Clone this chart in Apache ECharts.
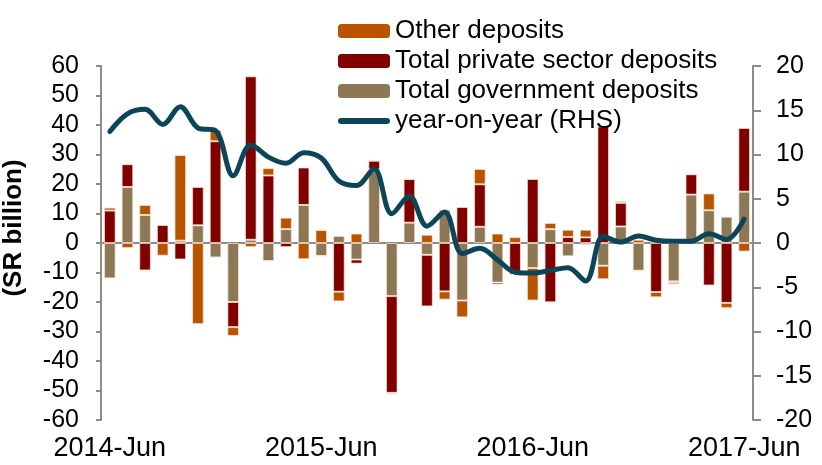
<!doctype html>
<html>
	<head>
		<meta charset="UTF-8">
		<title>Deposits</title>
		<script src="https://cdn.jsdelivr.net/npm/echarts@6/dist/echarts.min.js"></script>
		<style>
			html, body { margin: 0; padding: 0; background: #fff; }
			#chart { width: 822px; height: 465px; }
		</style>
	</head>
	<body>
		<div id="chart"></div>
		<script type="text/javascript">
			// months 2014-Jun .. 2017-Jun
			var months = ['2014-Jun', '2014-Jul', '2014-Aug', '2014-Sep', '2014-Oct', '2014-Nov', '2014-Dec',
				'2015-Jan', '2015-Feb', '2015-Mar', '2015-Apr', '2015-May', '2015-Jun', '2015-Jul', '2015-Aug',
				'2015-Sep', '2015-Oct', '2015-Nov', '2015-Dec', '2016-Jan', '2016-Feb', '2016-Mar', '2016-Apr',
				'2016-May', '2016-Jun', '2016-Jul', '2016-Aug', '2016-Sep', '2016-Oct', '2016-Nov', '2016-Dec',
				'2017-Jan', '2017-Feb', '2017-Mar', '2017-Apr', '2017-May', '2017-Jun'];
			var government = [-12, 19, 9.5, 0, 0.8, 6, -4.9, -20, 1.1, -6.1, 4.7, 12.9, -4.4, 2.4, -5.6, 24.9, -18, 6.9, -4,
				11.3, -19.5, 5.5, -13.4, 0, -8.5, 4.7, -4.5, -0.7, -7.7, 5.6, -9.4, 0.6, -13, 16.4, 11.1, 8.9, 17.4];
			var privateSector = [11, 7.7, -9.3, 6.1, -5.6, 13, 34.5, -8.5, 55.4, 22.9, -1.4, 12.7, 0, -16.5, -1.4, 3, -32.8, 14.8, -17.5,
				-16.4, 12.2, 14.4, -0.7, -10.7, 21.7, -20.1, 2.0, 1.9, 39.5, 8.0, 0, -16.6, -0.3, 6.9, -14.4, -20.3, 21.6];
			var other = [1, -1.7, 3.4, -4.3, 29, -27.5, 3.8, -3, -1.4, 2.5, 3.9, -5.5, 4.4, -3.3, 3.2, 0, -0.5, 0, 2.8,
				-2.8, -5.7, 5.2, 3.2, 2.0, -11.0, 2.1, 2.5, 2.6, -4.6, 0.6, 1.1, -1.8, -0.7, 0, 5.7, -1.8, -2.9];
			var yoy = [12.6, 14.6, 15.1, 13.4, 15.4, 13.0, 12.7, 7.6, 11.1, 9.7, 9.0, 10.2, 9.6, 7.0, 6.5, 8.4, 3.3, 5.3, 1.9,
				3.5, -1.2, -0.6, -1.9, -3.3, -3.4, -3.1, -2.8, -4.3, 0.75, 0.1, 0.8, 0.3, 0.2, 0.2, 1.05, 0.4, 2.7];
			var leftTicks = { min: -60, max: 60, interval: 10 };
			var rightTicks = { min: -20, max: 20, interval: 5 };

			var fontFam = 'Liberation Sans, Arial, sans-serif';
			var axisGray = '#8c8c8c';
			var barBorder = 'rgba(255,230,215,0.7)';
			// thick rounded stroke for the line's legend key
			var lineIcon = 'path://M3,0 L49,0 A3,3 0 0 1 49,6 L3,6 A3,3 0 0 1 3,0 Z';

			var chart = echarts.init(document.getElementById('chart'));
			chart.setOption({
				animation: false,
				textStyle: { fontFamily: fontFam },
				grid: { left: 101, right: 69, top: 66, bottom: 45, outerBoundsMode: 'none', containLabel: false },
				legend: {
					orient: 'vertical',
					left: 333,
					top: 13,
					itemWidth: 52,
					itemHeight: 14,
					itemGap: 4,
					itemStyle: { borderWidth: 0 },
					textStyle: { fontSize: 26, color: '#000', fontFamily: fontFam },
					data: [
						{ name: 'Other deposits' },
						{ name: 'Total private sector deposits' },
						{ name: 'Total government deposits' },
						{ name: 'year-on-year (RHS)', icon: lineIcon, itemStyle: { color: '#0b4658', borderWidth: 0 } }
					]
				},
				xAxis: [{
					type: 'category',
					data: months,
					axisLine: { onZero: true, onZeroAxisIndex: 0, lineStyle: { color: axisGray, width: 2 } },
					axisTick: { interval: 0, length: 7, lineStyle: { color: axisGray, width: 2 } },
					axisLabel: { show: false }
				}, {
					type: 'category',
					data: months,
					position: 'bottom',
					axisLine: { show: false, onZero: false },
					axisTick: { show: false },
					axisLabel: { interval: 11, margin: 15, fontSize: 27, color: '#000' }
				}],
				yAxis: [{
					type: 'value',
					min: leftTicks.min,
					max: leftTicks.max,
					interval: leftTicks.interval,
					name: '(SR billion)',
					nameLocation: 'middle',
					nameRotate: 90,
					nameGap: 74,
					nameTextStyle: { fontSize: 26, fontWeight: 'bold', color: '#000', padding: [0, 0, 0, 30] },
					axisLine: { show: true, lineStyle: { color: axisGray, width: 2 } },
					axisTick: { show: true, length: 5, lineStyle: { color: axisGray, width: 2 } },
					axisLabel: { fontSize: 25, color: '#000', margin: 22 },
					splitLine: { show: false }
				}, {
					type: 'value',
					position: 'right',
					min: rightTicks.min,
					max: rightTicks.max,
					interval: rightTicks.interval,
					axisLine: { show: true, lineStyle: { color: axisGray, width: 2 } },
					axisTick: { show: true, length: 8, lineStyle: { color: axisGray, width: 2 } },
					axisLabel: { fontSize: 25, color: '#000', margin: 23 },
					splitLine: { show: false }
				}],
				series: [{
					name: 'Total government deposits',
					type: 'bar',
					stack: 'dep',
					barWidth: '66%',
					itemStyle: { color: '#8d7856', borderColor: barBorder, borderWidth: 1 },
					data: government
				}, {
					name: 'Total private sector deposits',
					type: 'bar',
					stack: 'dep',
					itemStyle: { color: '#800000', borderColor: barBorder, borderWidth: 1 },
					data: privateSector
				}, {
					name: 'Other deposits',
					type: 'bar',
					stack: 'dep',
					itemStyle: { color: '#b85400', borderColor: barBorder, borderWidth: 1 },
					data: other
				}, {
					name: 'year-on-year (RHS)',
					type: 'line',
					yAxisIndex: 1,
					smooth: 0.35,
					symbol: 'none',
					z: 5,
					lineStyle: { color: '#0b4658', width: 5, cap: 'round' },
					itemStyle: { color: '#0b4658' },
					data: yoy
				}]
			});
		</script>
	</body>
</html>
